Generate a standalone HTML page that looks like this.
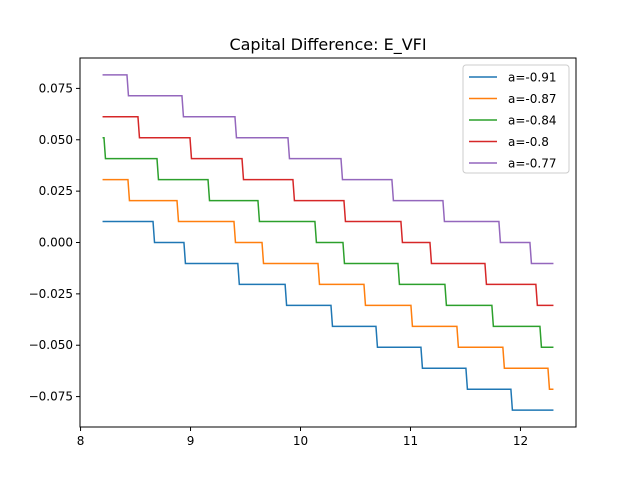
<!DOCTYPE html>
<html><head><meta charset="utf-8"><style>
body{margin:0;background:#fff;font-family:"Liberation Sans","DejaVu Sans",sans-serif;}
svg text{font-family:"DejaVu Sans","Liberation Sans",sans-serif;}
</style></head><body>
<svg id="chart" width="640" height="480" xmlns="http://www.w3.org/2000/svg"></svg>
<script>
const seriesLabels = ["a=-0.91","a=-0.87","a=-0.84","a=-0.8","a=-0.77"];
const seriesColors = ["#1f77b4","#ff7f0e","#2ca02c","#d62728","#9467bd"];
const xStart = 8.2, xEnd = 12.3;
const blueSteps = [8.659,8.94,9.43,9.86,10.277,10.686,11.095,11.504,11.913];
const blueLevels = [0.0102,0,-0.0102,-0.0204,-0.0306,-0.0408,-0.051,-0.0612,-0.0714,-0.0816];
const orangeSteps = [8.431,8.877,9.395,9.65,10.159,10.577,11.004,11.422,11.84,12.25];
const orangeLevels = [0.0306,0.0204,0.0102,0,-0.0102,-0.0204,-0.0306,-0.0408,-0.051,-0.0612,-0.0714];
const greenSteps = [8.213,8.695,9.159,9.613,10.131,10.386,10.886,11.313,11.74,12.177];
const greenLevels = [0.051,0.0408,0.0306,0.0204,0.0102,0,-0.0102,-0.0204,-0.0306,-0.0408,-0.051];
const redSteps = [8.522,8.995,9.468,9.931,10.395,10.913,11.177,11.677,12.14];
const redLevels = [0.0612,0.051,0.0408,0.0306,0.0204,0.0102,0,-0.0102,-0.0204,-0.0306];
const purpleSteps = [8.422,8.922,9.404,9.886,10.368,10.831,11.295,11.804,12.086];
const purpleLevels = [0.0816,0.0714,0.0612,0.051,0.0408,0.0306,0.0204,0.0102,0,-0.0102];
const xTicks = [8,9,10,11,12];
const yTicks = [-0.075,-0.05,-0.025,0,0.025,0.05,0.075];
const yTickLabels = ["−0.075","−0.050","−0.025","0.000","0.025","0.050","0.075"];

const L=80,R=576,T=58,B=427;
const xmin=7.995,xmax=12.505,ymin=-0.0898,ymax=0.0898;
const sx=v=>L+(v-xmin)/(xmax-xmin)*(R-L);
const sy=v=>B-(v-ymin)/(ymax-ymin)*(B-T);
const svg=document.getElementById('chart');
const NS="http://www.w3.org/2000/svg";
function mk(tag,attrs,parent){const e=document.createElementNS(NS,tag);for(const k in attrs)e.setAttribute(k,attrs[k]);(parent||svg).appendChild(e);return e;}

const title=mk('text',{x:328,y:50,'text-anchor':'middle','font-size':16,fill:'#000'});
title.textContent="Capital Difference: E_VFI";



const frame=mk('rect',{x:L,y:T,width:R-L,height:B-T,fill:'none',stroke:'#000','stroke-width':1});



xTicks.forEach(t=>{
  const x=sx(t);
  const tk=mk('line',{x1:x,x2:x,y1:B,y2:B+4,stroke:'#000'});
  
  
  const lb=mk('text',{x:x,y:B+18,'text-anchor':'middle','font-size':12});
  lb.textContent=t;
  
  
});
yTicks.forEach((t,i)=>{
  const y=sy(t);
  const tk=mk('line',{x1:L-4,x2:L,y1:y,y2:y,stroke:'#000'});
  
  
  const lb=mk('text',{x:L-7,y:y+4,'text-anchor':'end','font-size':12});
  lb.textContent=yTickLabels[i];
  
  
});

const allSteps=[blueSteps,orangeSteps,greenSteps,redSteps,purpleSteps];
const allLevels=[blueLevels,orangeLevels,greenLevels,redLevels,purpleLevels];
allSteps.forEach((steps,i)=>{
  const lv=allLevels[i];
  let d=`M${sx(xStart)},${sy(lv[0])}`;
  steps.forEach((s,j)=>{d+=` L${sx(s)},${sy(lv[j])} L${sx(s)+1.5},${sy(lv[j+1])}`;});
  d+=` L${sx(xEnd)},${sy(lv[lv.length-1])}`;
  const p=mk('path',{d:d,fill:'none',stroke:seriesColors[i],'stroke-width':1.5});
  
  
});

const lg=mk('g',{});


mk('rect',{x:463,y:65,width:106,height:108,rx:3,fill:'#fff','fill-opacity':0.8,stroke:'#ccc'},lg);
seriesLabels.forEach((s,i)=>{
  const y=77+i*21.5;
  const ln=mk('line',{x1:469,x2:497,y1:y,y2:y,stroke:seriesColors[i],'stroke-width':1.5},lg);
  
  
  const tx=mk('text',{x:508,y:y+4.5,'font-size':12},lg);
  tx.textContent=s;
  
  
});
</script>
</body></html>
